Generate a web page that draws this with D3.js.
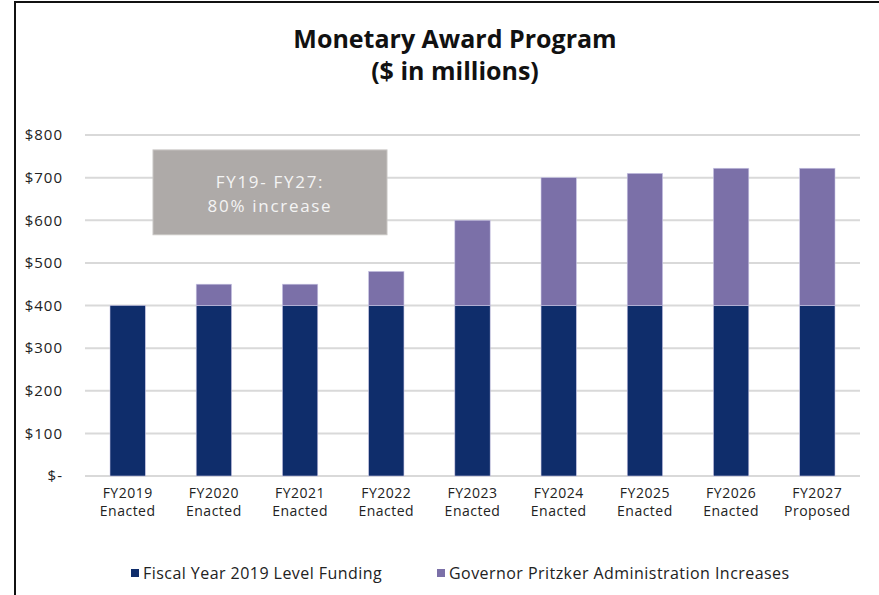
<!DOCTYPE html>
<html>
<head>
<meta charset="utf-8">
<script src="https://cdn.jsdelivr.net/npm/d3@7"></script>
<style>
  body { margin: 0; background: #fff; }
  svg { display: block; font-family: 'Open Sans', sans-serif; }
</style>
</head>
<body>
<div id="wrapper"></div>
<script>
// data
const categories = ['FY2019', 'FY2020', 'FY2021', 'FY2022', 'FY2023', 'FY2024', 'FY2025', 'FY2026', 'FY2027'];
const statuses = ['Enacted', 'Enacted', 'Enacted', 'Enacted', 'Enacted', 'Enacted', 'Enacted', 'Enacted', 'Proposed'];
const baseFunding = [400, 400, 400, 400, 400, 400, 400, 400, 400];
const increases = [0, 50, 50, 80, 200, 300, 310, 322, 322];
const yTicks = [0, 100, 200, 300, 400, 500, 600, 700, 800];
const seriesNames = ['Fiscal Year 2019 Level Funding', 'Governor Pritzker Administration Increases'];
const seriesColors = ['#0f2d6b', '#7b70a8'];
const noteLines = ['FY19- FY27:', '80% increase'];
const noteRange = [566, 765]; // box spans these $ values

function drawChart() {
  const width = 879;
  const height = 595;
  const dimensions = {
    width, height,
    margin: { top: 135, right: 19, bottom: 119, left: 85 },
  };
  dimensions.boundedWidth = width - dimensions.margin.left - dimensions.margin.right;
  dimensions.boundedHeight = height - dimensions.margin.top - dimensions.margin.bottom;

  const svg = d3.select('#wrapper').append('svg')
    .attr('width', width).attr('height', height);

  // frame (left + top lines)
  svg.append('path')
    .attr('d', `M15,${height} L15,2 L${width},2`)
    .attr('fill', 'none').attr('stroke', '#111').attr('stroke-width', 2);

  // title
  const title = svg.append('text')
    .attr('text-anchor', 'middle')
    .attr('font-weight', 'bold')
    .attr('font-size', 25)
    .attr('fill', '#111');
  title.append('tspan').attr('x', 455).attr('y', 48).text('Monetary Award Program');
  title.append('tspan').attr('x', 455).attr('y', 80).text('($ in millions)');

  const bounds = svg.append('g')
    .attr('transform', `translate(${dimensions.margin.left},${dimensions.margin.top})`);

  const x = d3.scaleBand()
    .domain(categories)
    .range([0, dimensions.boundedWidth])
    .paddingInner(0.59)
    .paddingOuter(0.29);

  const y = d3.scaleLinear()
    .domain([0, 800])
    .range([dimensions.boundedHeight, 0]);

  // gridlines
  bounds.append('g').selectAll('line')
    .data(yTicks)
    .join('line')
    .attr('x1', 0).attr('x2', dimensions.boundedWidth)
    .attr('y1', d => y(d)).attr('y2', d => y(d))
    .attr('stroke', '#d9d9d9').attr('stroke-width', 2);

  // y labels
  bounds.append('g').selectAll('text')
    .data(yTicks)
    .join('text')
    .attr('x', -22)
    .attr('y', d => y(d))
    .attr('dy', '0.35em')
    .attr('text-anchor', 'end')
    .attr('font-size', 15)
    .attr('letter-spacing', 1)
    .attr('fill', '#222')
    .text(d => d === 0 ? '$-' : `$${d}`);

  // note box (sits behind the bars, left part of chart)
  const noteBox = { x: 68, width: 234 };
  const noteG = bounds.append('g');
  noteG.append('rect')
    .attr('x', noteBox.x)
    .attr('width', noteBox.width)
    .attr('y', y(noteRange[1]))
    .attr('height', y(noteRange[0]) - y(noteRange[1]))
    .attr('fill', '#aeaaa8')
    .attr('stroke', '#c8c5c3').attr('stroke-width', 1);

  const noteMidY = (y(noteRange[0]) + y(noteRange[1])) / 2;
  noteG.append('text')
    .attr('text-anchor', 'middle')
    .attr('font-size', 17)
    .attr('letter-spacing', 1.7)
    .attr('fill', '#f4f4f4')
    .selectAll('tspan')
    .data(noteLines)
    .join('tspan')
    .attr('x', noteBox.x + noteBox.width / 2)
    .attr('y', (d, i) => noteMidY - 4 + i * 23.5)
    .text(d => d);

  // stacked bars
  const rows = categories.map((c, i) => ({ cat: c, base: baseFunding[i], inc: increases[i] }));
  const stack = d3.stack().keys(['base', 'inc'])(rows);

  bounds.append('g').selectAll('g')
    .data(stack)
    .join('g')
    .attr('fill', (d, i) => seriesColors[i])
    .selectAll('rect')
    .data(d => d)
    .join('rect')
    .attr('x', d => x(d.data.cat))
    .attr('width', x.bandwidth())
    .attr('y', d => y(d[1]))
    .attr('height', d => y(d[0]) - y(d[1]))
    .attr('stroke', d => d[1] > d[0] ? '#c9c5e4' : 'none')
    .attr('stroke-width', 0.6);

  // x labels (two lines each)
  const xLabelGroup = bounds.append('g')
    .attr('text-anchor', 'middle')
    .attr('font-size', 14)
    .attr('letter-spacing', 0.5)
    .attr('fill', '#222');
  xLabelGroup.selectAll('text.year')
    .data(categories)
    .join('text')
    .attr('class', 'year')
    .attr('x', d => x(d) + x.bandwidth() / 2)
    .attr('y', dimensions.boundedHeight + 22)
    .text(d => d);
  xLabelGroup.selectAll('text.status')
    .data(categories)
    .join('text')
    .attr('class', 'status')
    .attr('x', d => x(d) + x.bandwidth() / 2)
    .attr('y', dimensions.boundedHeight + 40)
    .text((d, i) => statuses[i]);

  // legend
  const legendX = [131, 437];
  const legend = svg.append('g').selectAll('g')
    .data(seriesNames)
    .join('g')
    .attr('transform', (d, i) => `translate(${legendX[i]},573)`);
  legend.append('rect')
    .attr('width', 8).attr('height', 8).attr('y', -4)
    .attr('fill', (d, i) => seriesColors[i]);
  legend.append('text')
    .attr('x', 12)
    .attr('dy', '0.35em')
    .attr('font-size', 16)
    .attr('letter-spacing', 0.45)
    .attr('fill', '#222')
    .text(d => d);
}
drawChart();
</script>
</body>
</html>
